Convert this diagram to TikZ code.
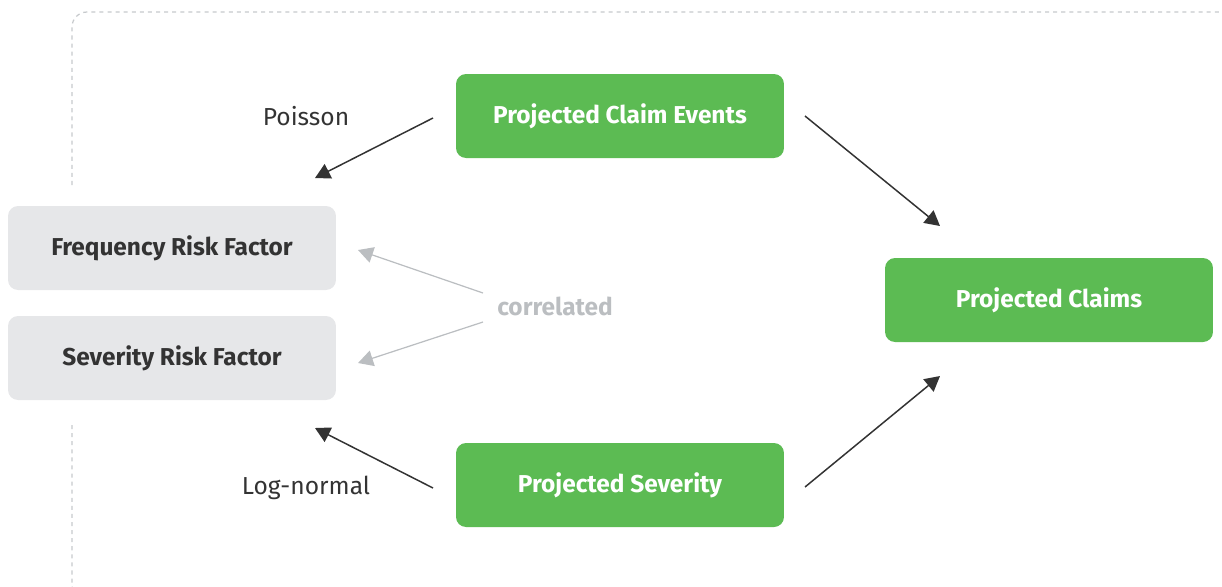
\documentclass[tikz,border=0pt]{standalone}
\usepackage{fontspec}
\setmainfont{Fira Sans}
\usepackage{tikz}
\usetikzlibrary{arrows.meta}

\definecolor{boxgreen}{HTML}{5CBB53}
\definecolor{boxgrey}{HTML}{E6E7E9}
\definecolor{inkdark}{HTML}{333333}
\definecolor{inklight}{HTML}{BBBEC1}
\definecolor{framegrey}{HTML}{C6C9CC}

\tikzset{
  greenbox/.style={rectangle, rounded corners=0.2cm, fill=boxgreen, text=white,
    minimum width=6.56cm, minimum height=1.68cm, font=\bfseries\fontsize{13.9}{16}\selectfont},
  greybox/.style={greenbox, fill=boxgrey, text=inkdark},
  lbl/.style={text=inkdark, font=\fontsize{14}{16}\selectfont},
  arr/.style={-{Triangle[length=0.3cm,width=0.32cm]}, color=inkdark, line width=0.85pt},
  corr/.style={arr, color=inklight, line width=0.7pt},
}

\begin{document}
\begin{tikzpicture}[x=0.02cm, y=-0.02cm]
    \useasboundingbox (0,0) rectangle (1222,586);
    %frame
    \draw[framegrey, line width=0.7pt, dash pattern=on 2.3pt off 2.3pt, rounded corners=0.3cm]
      (72,185) -- (72,12) -- (1240,12);
    \draw[framegrey, line width=0.7pt, dash pattern=on 2.3pt off 2.3pt, rounded corners=0.3cm]
      (72,425) -- (72,600) -- (120,600);
    %states
    \node[greenbox] (events) at (620,116) {Projected Claim Events};
    \node[greenbox] (severity) at (620,485) {Projected Severity};
    \node[greenbox] (claims) at (1049,300) {Projected Claims};
    \node[greybox] (freqrf) at (172,248) {Frequency Risk Factor};
    \node[greybox] (sevrf) at (172,358) {Severity Risk Factor};
    \node[lbl] (poisson) at (306,116) {Poisson};
    \node[lbl] (lognormal) at (306,488) {Log-normal};
    \node[lbl, text=inklight, font=\bfseries\fontsize{13.9}{16}\selectfont] (correlated) at (555,306) {correlated};
    %ends
    \coordinate (events-out) at (433,118);
    \coordinate (freqrf-in) at (315,178);
    \coordinate (events-right) at (805,116);
    \coordinate (claims-top) at (940,226);
    \coordinate (severity-right) at (805,487);
    \coordinate (claims-bot) at (940,376);
    \coordinate (severity-out) at (433,488);
    \coordinate (sevrf-in) at (315,428);
    \coordinate (corr-up) at (483,293);
    \coordinate (freqrf-right) at (358,250);
    \coordinate (corr-down) at (483,322);
    \coordinate (sevrf-right) at (358,363);
    %edges
    \path[arr]
     (events-out) edge (freqrf-in)
     (events-right) edge (claims-top)
     (severity-right) edge (claims-bot)
     (severity-out) edge (sevrf-in);
    \path[corr]
     (corr-up) edge (freqrf-right)
     (corr-down) edge (sevrf-right);
\end{tikzpicture}
\end{document}
